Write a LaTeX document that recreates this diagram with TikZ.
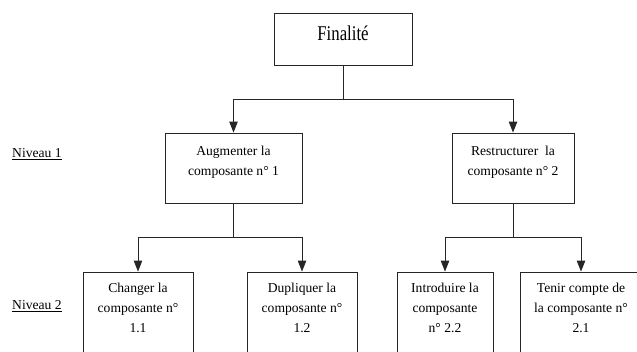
\documentclass[tikz,border=0pt]{standalone}
\usepackage{fontspec}
\setmainfont{Liberation Serif}
\newfontfamily\finfont[FakeStretch=0.8]{Liberation Serif}
\usetikzlibrary{arrows.meta,positioning}
\tikzset{
  boite/.style={rectangle, draw=black!85, line width=0.9pt, minimum width=110pt,
    minimum height=70pt, inner sep=0pt},
  texte/.style={inner sep=0pt, align=center, font=\fontsize{13.6}{20}\selectfont},
  niveau/.style={inner sep=0pt, anchor=base west, font=\fontsize{13.6}{20}\selectfont},
  fleche/.style={-{Triangle[length=11pt, width=8.5pt]}, line width=0.9pt, draw=black!85},
}

\begin{document}
\begin{tikzpicture}[x=1pt, y=-1pt]
  \useasboundingbox (0,0) rectangle (637,351);
  \clip (0,0) rectangle (637,351);

  % top box
  \node[boite, minimum width=138pt, minimum height=52pt] (fin) at (343,39) {};
  \node[inner sep=0pt, font=\finfont\fontsize{21}{25}\selectfont, below=13.3pt of fin.north] (fin-t) {Finalité};

  % niveau 1
  \node[boite, minimum width=137pt] (aug) at (233.5,168) {};
  \node[boite, minimum width=122pt] (res) at (513,168) {};
  \node[texte, below=13.7pt of aug.north] (aug-t) {Augmenter la\\composante n° 1};
  \node[texte, below=13.7pt of res.north] (res-t) {Restructurer~ la\\composante n° 2};

  % niveau 2 (boxes run past the lower edge)
  \node[boite, minimum height=108pt] (chg) at (138,326) {};
  \node[boite, minimum height=108pt] (dup) at (302,326) {};
  \node[boite, minimum width=96pt, minimum height=108pt] (intro) at (445,326) {};
  \node[boite, minimum width=122pt, minimum height=108pt] (tenir) at (581,326) {};
  \node[texte, below=11.7pt of chg.north] (chg-t) {Changer la\\composante n°\\1.1};
  \node[texte, below=11.7pt of dup.north] (dup-t) {Dupliquer la\\composante n°\\1.2};
  \node[texte, below=11.7pt of intro.north] (intro-t) {Introduire la\\composante\\n° 2.2};
  \node[texte, below=11.7pt of tenir.north] (tenir-t) {Tenir compte de\\la composante n°\\2.1};

  % level names
  \node[niveau] (niv1) at (12,157.3) {\underline{Niveau 1}};
  \node[niveau] (niv2) at (12,309.5) {\underline{Niveau 2}};

  % tree connectors
  \draw[fleche] (fin.south) -- ++(0,34) -| (aug.north);
  \draw[fleche] (fin.south) -- ++(0,34) -| (res.north);
  \draw[fleche] (aug.south) -- ++(0,34) -| (chg.north);
  \draw[fleche] (aug.south) -- ++(0,34) -| (dup.north);
  \draw[fleche] (res.south) -- ++(0,34) -| (intro.north);
  \draw[fleche] (res.south) -- ++(0,34) -| (tenir.north);
\end{tikzpicture}
\end{document}
